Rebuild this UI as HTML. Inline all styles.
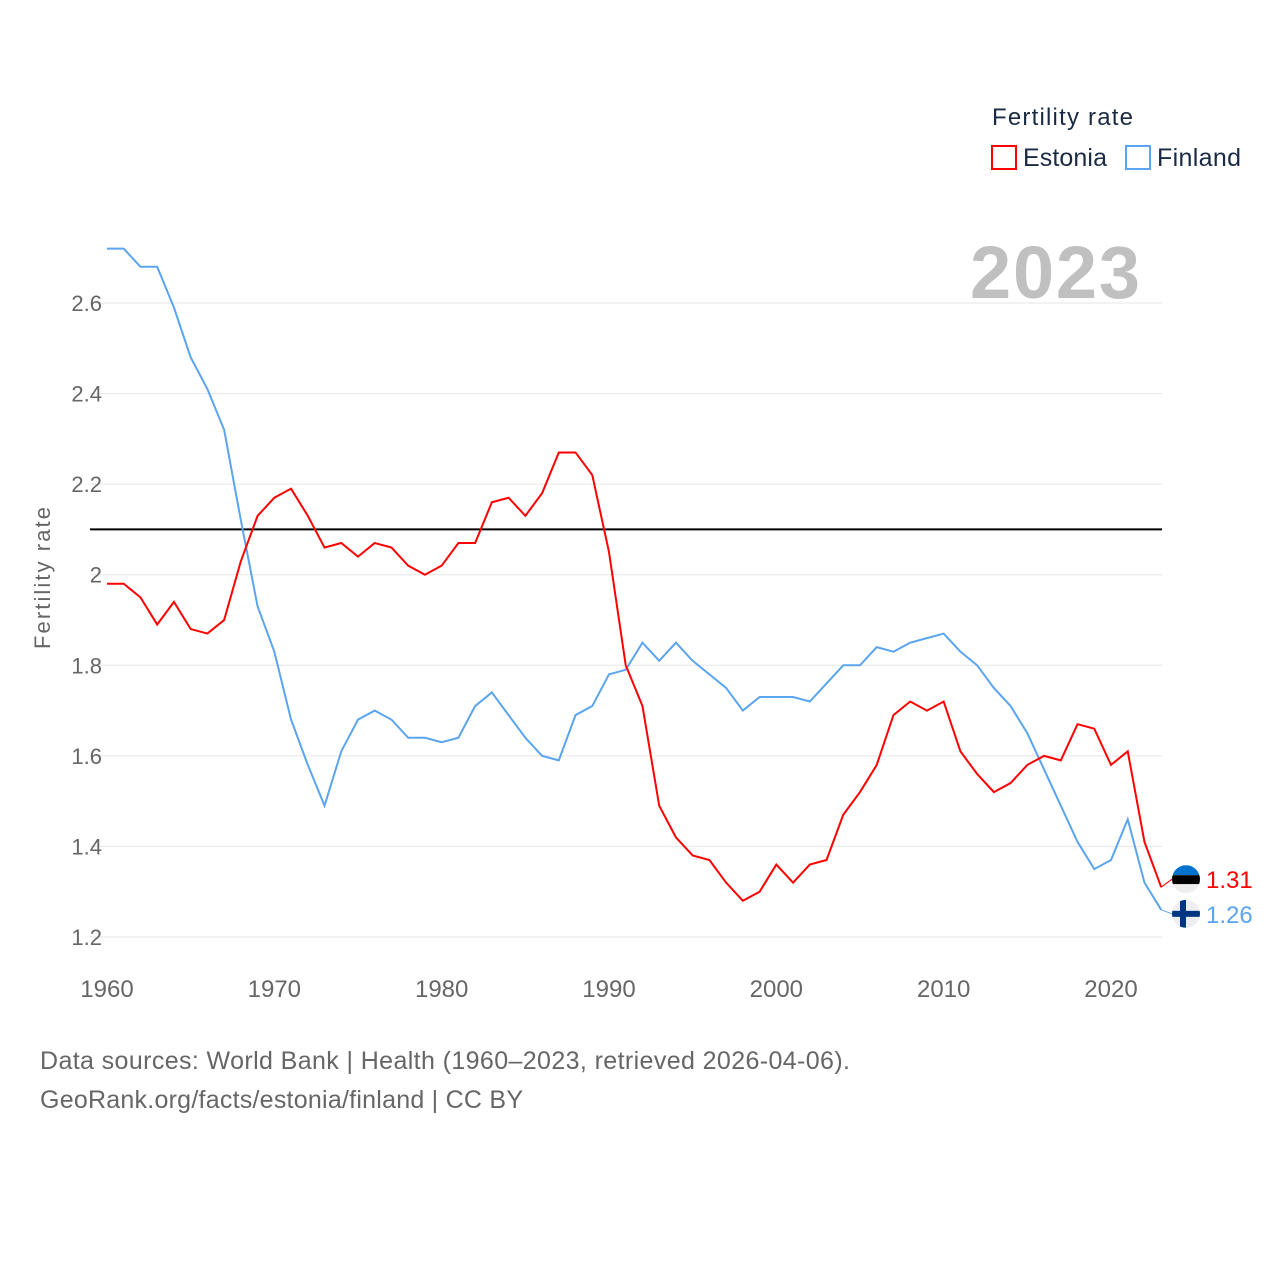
<!DOCTYPE html>
<html><head><meta charset="utf-8">
<style>
body{margin:0;background:#fff;font-family:"Liberation Sans",sans-serif;}
svg text{font-family:"Liberation Sans",sans-serif;}
</style></head>
<body>
<svg id="chart" width="1280" height="1280" xmlns="http://www.w3.org/2000/svg">
<text x="992" y="125" font-size="24" fill="#1a2a44" textLength="141">Fertility rate</text>
<g><rect x="992" y="146" width="24" height="23" fill="none" stroke="#ff0000" stroke-width="2"/><text x="1023" y="166" font-size="25" fill="#1a2a44" textLength="84">Estonia</text></g>
<g><rect x="1126" y="146" width="24" height="23" fill="none" stroke="#5aa5ee" stroke-width="2"/><text x="1157" y="166" font-size="25" fill="#1a2a44" textLength="84">Finland</text></g>
<text x="970" y="298" font-size="74" font-weight="bold" fill="#c0c0c0" textLength="170">2023</text>
<text transform="translate(50,578) rotate(-90)" font-size="22" fill="#666" text-anchor="middle" textLength="142">Fertility rate</text>
<g id="grid"></g><g id="series"></g>
<text x="40" y="1069" font-size="25" fill="#666" textLength="810">Data sources: World Bank | Health (1960–2023, retrieved 2026-04-06).</text>
<text x="40" y="1108" font-size="25" fill="#666" textLength="483">GeoRank.org/facts/estonia/finland | CC BY</text>
</svg>
<script>
const years=[];for(let y=1960;y<=2023;y++)years.push(y);
const estonia=[1.98,1.98,1.95,1.89,1.94,1.88,1.87,1.90,2.03,2.13,2.17,2.19,2.13,2.06,2.07,2.04,2.07,2.06,2.02,2.00,2.02,2.07,2.07,2.16,2.17,2.13,2.18,2.27,2.27,2.22,2.05,1.80,1.71,1.49,1.42,1.38,1.37,1.32,1.28,1.30,1.36,1.32,1.36,1.37,1.47,1.52,1.58,1.69,1.72,1.70,1.72,1.61,1.56,1.52,1.54,1.58,1.60,1.59,1.67,1.66,1.58,1.61,1.41,1.31];
const finland=[2.72,2.72,2.68,2.68,2.59,2.48,2.41,2.32,2.12,1.93,1.83,1.68,1.58,1.49,1.61,1.68,1.70,1.68,1.64,1.64,1.63,1.64,1.71,1.74,1.69,1.64,1.60,1.59,1.69,1.71,1.78,1.79,1.85,1.81,1.85,1.81,1.78,1.75,1.70,1.73,1.73,1.73,1.72,1.76,1.80,1.80,1.84,1.83,1.85,1.86,1.87,1.83,1.80,1.75,1.71,1.65,1.57,1.49,1.41,1.35,1.37,1.46,1.32,1.26];
const yTicks=[1.2,1.4,1.6,1.8,2,2.2,2.4,2.6];
const xTicks=[1960,1970,1980,1990,2000,2010,2020];
const refValue=2.1;
const NS="http://www.w3.org/2000/svg";
const X=v=>107+(v-1960)*(1111-107)/60;
const Y=v=>937-(v-1.2)*(937-303)/1.4;
function mk(t,a,p){const e=document.createElementNS(NS,t);for(const k in a)e.setAttribute(k,a[k]);p.appendChild(e);return e;}
const g=document.getElementById('grid'),s=document.getElementById('series');
yTicks.forEach(v=>{
 const l=mk('line',{x1:90,x2:1162,y1:Y(v),y2:Y(v),stroke:'#e6e6e6','stroke-width':1},g);
 
 
 const t=mk('text',{x:102,y:Y(v)+8,'font-size':22,fill:'#666','text-anchor':'end'},g);t.textContent=String(v);
 
 
});
xTicks.forEach(v=>{
 const t=mk('text',{x:X(v),y:997,'font-size':24,fill:'#666','text-anchor':'middle'},g);t.textContent=v;
 
 
});
const ref=mk('line',{x1:90,x2:1162,y1:Y(refValue),y2:Y(refValue),stroke:'#000','stroke-width':2},g);


function line(d,c,n){
 const p=mk('polyline',{points:d.map((v,i)=>X(years[i])+','+Y(v)).join(' '),fill:'none',stroke:c,'stroke-width':2},s);
 
 
}
line(finland,'#5aa5ee','finland-line');
line(estonia,'#ff0000','estonia-line');
function endLabel(d,c,n,flag,off){
 const v=d[d.length-1],y=Y(v),x=X(years[years.length-1]);
 const cy=y+off;
 mk('polyline',{points:x+','+y+' '+1172+','+cy,fill:'none',stroke:c,'stroke-width':1},s);
 const gg=mk('g',{},s);
 
 
 const clip=mk('clipPath',{id:'c'+n},gg);mk('circle',{cx:1186,cy:cy,r:14},clip);
 const inner=mk('g',{'clip-path':'url(#c'+n+')'},gg);
 if(flag==='ee'){mk('rect',{x:1172,y:cy-14,width:28,height:10,fill:'#0072ce'},inner);mk('rect',{x:1172,y:cy-4,width:28,height:9,fill:'#000'},inner);mk('rect',{x:1172,y:cy+5,width:28,height:10,fill:'#eee'},inner);}
 else{mk('rect',{x:1172,y:cy-14,width:28,height:28,fill:'#eee'},inner);mk('rect',{x:1172,y:cy-3,width:28,height:6,fill:'#003580'},inner);mk('rect',{x:1180,y:cy-14,width:6,height:28,fill:'#003580'},inner);}
 const t=mk('text',{x:1206,y:cy+9,'font-size':24,fill:c},s);t.textContent=v.toFixed(2);
 
 
}
endLabel(estonia,'#ff0000','estonia','ee',-8);
endLabel(finland,'#5aa5ee','finland','fi',4);
</script>
</body></html>
